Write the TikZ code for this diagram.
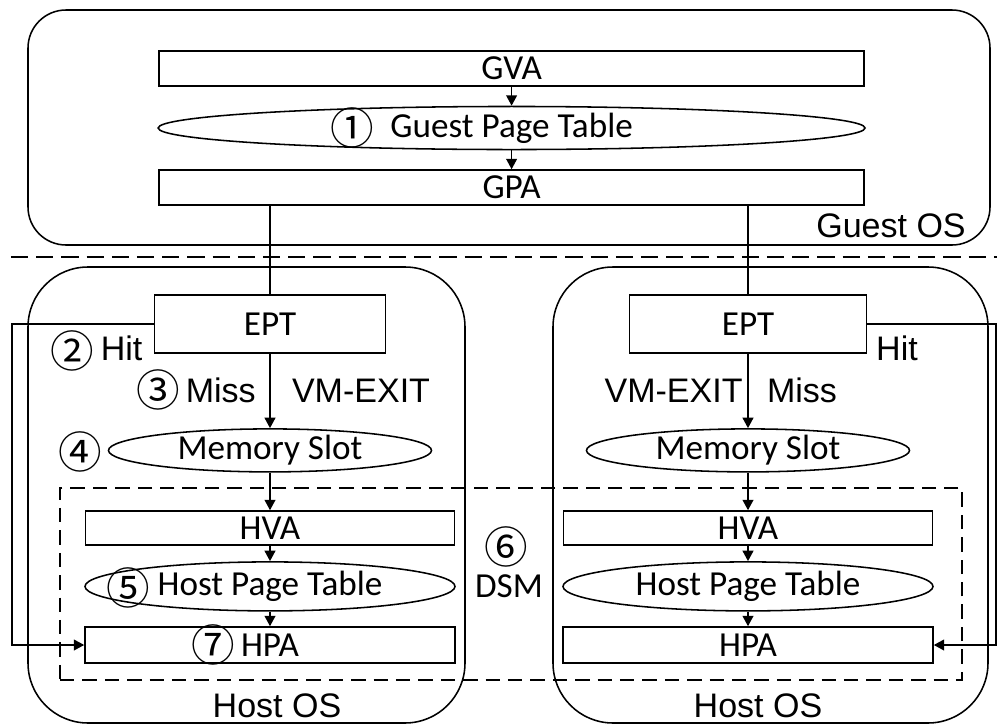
\documentclass[tikz,border=0pt]{standalone}
\usepackage{fontspec}
\setmainfont{Carlito}
\newfontfamily\arialfont{Liberation Sans}
\newfontfamily\cjkfont{Noto Sans CJK JP}
\usetikzlibrary{shapes.geometric,arrows.meta}
\begin{document}
\begin{tikzpicture}[line width=1.1pt,>={Triangle[length=0.26cm,width=0.27cm]},
  every node/.style={font=\fontsize{25}{30}\selectfont},
  box/.style={draw,inner sep=0pt},
  oval/.style={draw,ellipse,inner sep=0pt},
  osbox/.style={draw,rounded corners=1.5cm},
  lbl/.style={font=\arialfont\fontsize{24.2}{28}\selectfont,inner sep=0pt,anchor=base},
  cnum/.style={font=\cjkfont\fontsize{31}{32}\selectfont,inner sep=0pt}]
\useasboundingbox (0,0) rectangle (24.925,-18.15);
% guest side
\node[osbox,rounded corners=0.95cm,minimum width=24.05cm,minimum height=5.875cm] (guest) at (12.725,-3.1875) {};
\node[box,minimum width=17.625cm,minimum height=0.875cm] (gva) at (12.79,-1.7125) {GVA};
\node[oval,minimum width=17.675cm,minimum height=1.0cm] (gpt) at (12.79,-3.2) {Guest Page Table};
\node[box,minimum width=17.625cm,minimum height=0.875cm] (gpa) at (12.79,-4.6875) {GPA};
\node[cnum] (n1) at (8.8,-3.2) {①};
\node[lbl] (guestlbl) at (22.275,-5.925) {Guest OS};
\draw[->] (gva) -- (gpt);
\draw[->] (gpt) -- (gpa);
% separator
\draw[dash pattern=on 0.43cm off 0.2cm] (0.275,-6.425) -- (24.925,-6.425);
% host side
\node[osbox,minimum width=10.925cm,minimum height=11.4cm] (hostL) at (6.1625,-12.375) {};
\node[osbox,minimum width=10.875cm,minimum height=11.4cm] (hostR) at (19.2625,-12.375) {};
\node[draw,dash pattern=on 0.36cm off 0.2cm,minimum width=22.55cm,minimum height=4.8cm] (dsm) at (12.775,-14.6) {};
\node[box,minimum width=5.775cm,minimum height=1.45cm] (eptL) at (6.75,-8.1) {EPT};
\node[box,minimum width=5.925cm,minimum height=1.45cm] (eptR) at (18.7,-8.1) {EPT};
\node[oval,minimum width=8.075cm,minimum height=1.075cm] (msL) at (6.75,-11.26) {Memory Slot};
\node[oval,minimum width=8.075cm,minimum height=1.075cm] (msR) at (18.7,-11.26) {Memory Slot};
\node[box,minimum width=9.225cm,minimum height=0.85cm] (hvaL) at (6.75,-13.2) {HVA};
\node[box,minimum width=9.225cm,minimum height=0.85cm] (hvaR) at (18.7,-13.2) {HVA};
\node[oval,minimum width=9.25cm,minimum height=1.225cm] (hptL) at (6.75,-14.66) {Host Page Table};
\node[oval,minimum width=9.25cm,minimum height=1.225cm] (hptR) at (18.7,-14.66) {Host Page Table};
\node[box,minimum width=9.25cm,minimum height=0.9cm] (hpaL) at (6.75,-16.125) {HPA};
\node[box,minimum width=9.25cm,minimum height=0.9cm] (hpaR) at (18.7,-16.125) {HPA};
\draw (gpa.south -| eptL) -- (eptL);
\draw (gpa.south -| eptR) -- (eptR);
\foreach \s in {L,R} {
  \draw[->] (ept\s) -- (ms\s);
  \draw[->] (ms\s) -- (hva\s);
  \draw[->] (hva\s) -- (hpt\s);
  \draw[->] (hpt\s) -- (hpa\s);
}
% hit paths
\coordinate (hitL) at (0.3,-8.1);
\coordinate (hitR) at (24.9,-8.1);
\draw[->] (eptL.west) -- (hitL) |- (hpaL.west);
\draw[->] (eptR.east) -- (hitR) |- (hpaR.east);
% labels
\node[cnum] (n2) at (1.8125,-8.775) {②};
\node[lbl,anchor=base west] (hitLtxt) at (2.5,-9.0) {Hit};
\node[cnum] (n3) at (3.95,-9.75) {③};
\node[lbl,anchor=base west] (missLtxt) at (4.625,-10.05) {Miss};
\node[lbl] (vmLtxt) at (9.025,-10.05) {VM-EXIT};
\node[lbl] (vmRtxt) at (16.84,-10.05) {VM-EXIT};
\node[lbl] (missRtxt) at (20.05,-10.05) {Miss};
\node[lbl] (hitRtxt) at (22.425,-9.0) {Hit};
\node[cnum] (n4) at (2.0,-11.3) {④};
\node[cnum] (n5) at (3.2,-14.7) {⑤};
\node[cnum] (n7) at (5.325,-16.125) {⑦};
\node[cnum] (n6) at (12.65,-13.675) {⑥};
\node[anchor=base] (dsmtxt) at (12.725,-14.925) {DSM};
\node[lbl] (hostLlbl) at (6.925,-17.925) {Host OS};
\node[lbl] (hostRlbl) at (18.95,-17.925) {Host OS};
\end{tikzpicture}
\end{document}
